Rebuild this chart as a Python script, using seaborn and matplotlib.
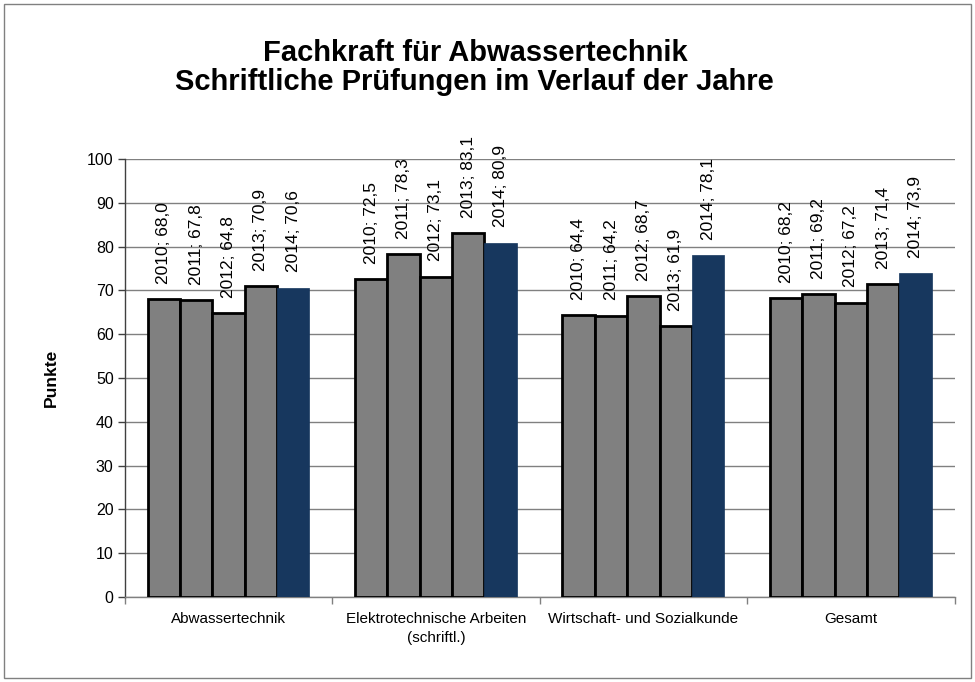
import matplotlib
matplotlib.use("Agg")
import matplotlib.pyplot as plt
import seaborn as sns
import pandas as pd
from matplotlib.patches import Rectangle
from matplotlib.ticker import FixedLocator

categories = ["Abwassertechnik", "Elektrotechnische Arbeiten\n(schriftl.)",
              "Wirtschaft- und Sozialkunde", "Gesamt"]
years = ["2010", "2011", "2012", "2013", "2014"]
v2010 = [68.0, 72.5, 64.4, 68.2]
v2011 = [67.8, 78.3, 64.2, 69.2]
v2012 = [64.8, 73.1, 68.7, 67.2]
v2013 = [70.9, 83.1, 61.9, 71.4]
v2014 = [70.6, 80.9, 78.1, 73.9]
series = [v2010, v2011, v2012, v2013, v2014]
colors = ["#808080", "#808080", "#808080", "#808080", "#17375E"]

rows = []
for y, vals in zip(years, series):
    for c, v in zip(categories, vals):
        rows.append({"Kategorie": c, "Jahr": y, "Punkte": v})
df = pd.DataFrame(rows)

sns.set_theme(style="white")
plt.rcParams["font.family"] = ["Liberation Sans", "DejaVu Sans"]
plt.rcParams["text.color"] = "black"
plt.rcParams["axes.labelcolor"] = "black"
plt.rcParams["xtick.color"] = "black"
plt.rcParams["ytick.color"] = "black"

fig = plt.figure(figsize=(9.75, 6.82), dpi=100)
ax = fig.add_axes([0.128, 0.1246, 0.851, 0.6424])

sns.barplot(data=df, x="Kategorie", y="Punkte", hue="Jahr", order=categories,
            hue_order=years, palette=colors, width=0.78, ax=ax, legend=False,
            saturation=1, errorbar=None)

for i, cont in enumerate(ax.containers):
    for p in cont:
        if i < 4:
            p.set_edgecolor("black")
            p.set_linewidth(2)
        else:
            p.set_edgecolor(colors[4])
            p.set_linewidth(0.5)
        p.set_zorder(3)
    labels = [f"{years[i]}; {v:.1f}".replace(".", ",") for v in series[i]]
    ax.bar_label(cont, labels=labels, rotation=90, padding=11, fontsize=12.5,
                 color="black")

ax.set_ylim(0, 100)
ax.set_xlim(-0.5, 3.5)
ax.set_yticks(range(0, 101, 10))
ax.yaxis.grid(True, color="#808080", linewidth=1)
ax.set_axisbelow(True)
ax.tick_params(axis="y", labelsize=11.5, length=5, direction="out", left=True,
               color="#404040", width=1, pad=3)
ax.tick_params(axis="x", which="major", length=0, labelsize=11, pad=11)
for lbl in ax.get_xticklabels():
    lbl.set_linespacing(1.45)
ax.xaxis.set_minor_locator(FixedLocator([-0.5, 0.5, 1.5, 2.5, 3.5]))
ax.tick_params(axis="x", which="minor", length=5, direction="out", bottom=True,
               color="#808080", width=1)
ax.set_xlabel("")
ax.set_ylabel("Punkte", fontsize=12.5, fontweight="bold", labelpad=20)
for s in ["top", "right"]:
    ax.spines[s].set_visible(False)
ax.spines["left"].set_color("#404040")
ax.spines["left"].set_linewidth(1)
ax.spines["bottom"].set_color("#808080")
ax.spines["bottom"].set_linewidth(1)

fig.text(0.487, 0.901, "Fachkraft für Abwassertechnik\nSchriftliche Prüfungen im Verlauf der Jahre",
         ha="center", va="center", fontsize=21, fontweight="bold", linespacing=1.05)

fig.patches.append(Rectangle((0.004, 0.006), 0.992, 0.988, transform=fig.transFigure,
                             fill=False, edgecolor="#808080", linewidth=1))

fig.savefig("out.png", dpi=100)
